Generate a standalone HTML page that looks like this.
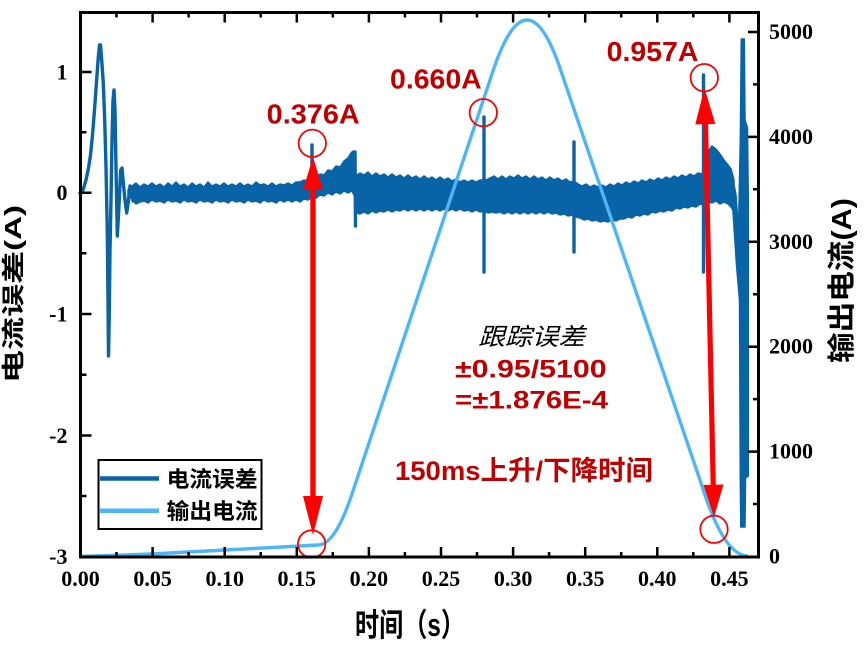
<!DOCTYPE html>
<html><head><meta charset="utf-8">
<style>
html,body{margin:0;padding:0;background:#fff;}
svg{display:block;}
.tk{font-family:"Liberation Serif",serif;font-weight:bold;font-size:22px;fill:#000;}
.cj{font-family:"Liberation Sans","Noto Sans CJK SC",sans-serif;font-weight:bold;fill:#000;}
.an{font-family:"Liberation Sans","Noto Sans CJK SC",sans-serif;font-weight:bold;fill:#c00000;}
</style></head><body>
<svg width="865" height="652" viewBox="0 0 865 652" xmlns="http://www.w3.org/2000/svg">
<rect width="865" height="652" fill="#fff"/>

<!-- dark blue error band -->
<g fill="#0864a6" stroke="#0864a6" stroke-width="1.5" stroke-linejoin="round">
<polygon points="128,190 132,186 136,183 140,187 144,184 148,186 152,183 156,186 160,184 164,187 168,183 172,186 176,182 180,186 184,184 188,187 192,183 196,186 200,184 204,187 208,182 212,186 216,184 220,186 224,183 228,186 232,184 236,186 240,183 244,186 248,184 252,186 256,182 260,185 264,184 268,186 272,183 276,186 280,184 284,185 288,183 292,185 296,182 300,182 304,180 308,181 312,178 316,177 320,174 324,175 328,170 332,171 336,166 340,167 344,161 348,158 351,153 353,151 355,156 356,176 360,173 364,175 368,172 372,176 376,173 380,176 384,174 388,177 392,174 396,177 400,175 404,178 408,175 412,178 416,176 420,179 424,176 428,179 432,177 436,180 440,177 444,180 448,178 452,181 456,179 460,182 464,180 468,182 472,180 476,182 480,180 486,180 490,178 494,176 498,179 502,176 506,179 510,176 514,178 518,175 522,178 526,176 530,179 534,176 538,179 542,177 546,180 550,177 554,180 558,178 562,181 566,179 570,182 574,181 578,184 582,186 586,184 590,187 594,185 598,187 602,185 606,187 610,184 614,186 618,183 622,185 626,182 630,184 634,181 638,183 642,180 646,182 650,179 654,181 658,178 662,180 666,177 670,179 674,176 678,178 682,175 686,177 690,174 694,176 698,173 702,174 706,163 709,150 712,146 716,149 720,154 724,160 728,165 731,169 734,180 734,212 731,207 728,204 724,202 720,204 716,201 712,203 708,202 704,205 700,204 696,207 692,206 688,208 684,207 680,209 676,208 672,211 668,210 664,212 660,211 656,213 652,212 648,215 644,214 640,216 636,215 632,218 628,217 624,219 620,219 616,221 612,220 608,222 604,221 600,222 596,220 592,221 588,219 584,220 580,218 576,217 572,215 568,216 564,214 560,215 556,213 552,214 548,212 544,214 540,212 536,214 532,212 528,214 524,212 520,214 516,212 512,214 508,212 504,214 500,212 496,213 492,212 488,213 484,211 480,212 476,210 472,212 468,210 464,211 460,209 456,211 452,209 448,211 444,209 440,211 436,209 432,211 428,209 424,211 420,209 416,211 412,209 408,211 404,209 400,211 396,210 392,212 388,210 384,212 380,211 376,213 372,211 368,214 364,212 360,214 357,213 355,197 352,191 348,193 344,191 340,194 336,192 332,195 328,193 324,196 320,195 316,198 312,197 308,200 304,199 300,202 296,200 292,202 288,200 284,202 280,200 276,203 272,201 268,202 264,200 260,203 256,201 252,202 248,200 244,203 240,201 236,202 232,200 228,203 224,201 220,202 216,200 212,203 208,201 204,202 200,200 196,203 192,201 188,202 184,200 180,203 176,201 172,202 168,200 164,203 160,201 156,202 152,200 148,203 144,201 140,202 136,204 132,199 128,195"/>
<polygon points="733,180 736,195 738.5,230 740.3,140 741.3,39 744.3,39 745,120 747.5,128 748.3,200 748.3,476 745.5,478 745,527 740.8,527 740.3,480 739.5,300 736.5,265 733,212"/>
</g>
<g fill="none" stroke="#0864a6" stroke-width="3.4" stroke-linejoin="round" stroke-linecap="round">
<polyline points="80,193 83,190 86,180 88.5,168 90.5,155 92.5,135 94.5,110 96.5,82 98.3,57 99.5,45 100.5,45 101.7,60 103.3,83 104.7,120 106,167 107.3,233 108,300 108.5,356 109.2,320 110,250 111,200 112,140 113,100 114,90 115,110 116,167 117.3,236 118.5,215 120.7,170 122,168 123.5,185 125,200 126.7,213 128.5,200 130,186 131.5,192 133,201 135,188"/>
<path d="M312,198 L312,145"/>
<path d="M355,152 L355.5,226"/>
<path d="M484,272 L484,117"/>
<path d="M574,252 L574,142"/>
<path d="M703.5,272 L703.5,75"/>
</g>

<!-- light blue output current -->
<path d="M80,556.5 L152,554 L225,550 L291,546.5 L318,545 Q335,545 352,494 L493,71 Q527,-31 561,71 L702,486 Q724,556 748,556" fill="none" stroke="#4db6f7" stroke-width="3.4" stroke-linejoin="round"/>

<!-- red circles -->
<g fill="none" stroke="#ff0000" stroke-width="1.8">
<circle cx="312.3" cy="143.3" r="13.7"/>
<circle cx="483.3" cy="112.7" r="13.7"/>
<circle cx="704.3" cy="77.7" r="13.7"/>
<circle cx="311.7" cy="544" r="13.7"/>
<circle cx="714" cy="529.3" r="13.7"/>
</g>

<!-- red arrows -->
<g fill="#ff0000">
<rect x="310.3" y="186" width="5.4" height="314"/>
<polygon points="313,157 323,190 303,190"/>
<polygon points="313,535 323,496 303,496"/>
<line x1="705.4" y1="120" x2="713.3" y2="488" stroke="#ff0000" stroke-width="5.2"/>
<polygon points="704.5,88 715.3,124 695.3,124.4"/>
<polygon points="714,517 723.5,484.5 703.5,485"/>
</g>

<!-- frame and ticks -->
<rect x="80.5" y="12.5" width="678" height="544.5" fill="none" stroke="#000" stroke-width="3"/>
<g stroke="#000" stroke-width="2.5" fill="none">
<path d="M152.6,557V547M224.7,557V547M296.8,557V547M368.9,557V547M441,557V547M513.1,557V547M585.2,557V547M657.3,557V547M729.4,557V547"/>
<path d="M116.5,557V552M188.6,557V552M260.7,557V552M332.8,557V552M404.9,557V552M477,557V552M549.1,557V552M621.2,557V552M693.3,557V552"/>
<path d="M152.6,12.5V22.5M224.7,12.5V22.5M296.8,12.5V22.5M368.9,12.5V22.5M441,12.5V22.5M513.1,12.5V22.5M585.2,12.5V22.5M657.3,12.5V22.5M729.4,12.5V22.5"/>
<path d="M116.5,12.5V17.5M188.6,12.5V17.5M260.7,12.5V17.5M332.8,12.5V17.5M404.9,12.5V17.5M477,12.5V17.5M549.1,12.5V17.5M621.2,12.5V17.5M693.3,12.5V17.5"/>
<path d="M80.5,72H91.5M80.5,192.7H91.5M80.5,314H91.5M80.5,435.5H91.5"/>
<path d="M80.5,132.3H86.5M80.5,253.3H86.5M80.5,374.8H86.5M80.5,496H86.5"/>
<path d="M758.5,451.6H748M758.5,346.7H748M758.5,241.8H748M758.5,136.9H748M758.5,32H748"/>
<path d="M758.5,504H753M758.5,399.1H753M758.5,294.2H753M758.5,189.3H753M758.5,84.4H753"/>
</g>

<!-- tick labels -->
<g class="tk" text-anchor="middle">
<text x="80.5" y="586">0.00</text>
<text x="152.6" y="586">0.05</text>
<text x="224.7" y="586">0.10</text>
<text x="296.8" y="586">0.15</text>
<text x="368.9" y="586">0.20</text>
<text x="441" y="586">0.25</text>
<text x="513.1" y="586">0.30</text>
<text x="585.2" y="586">0.35</text>
<text x="657.3" y="586">0.40</text>
<text x="729.4" y="586">0.45</text>
</g>
<g class="tk" text-anchor="end">
<text x="67.5" y="79.5">1</text>
<text x="67.5" y="200.2">0</text>
<text x="67.5" y="321.5">-1</text>
<text x="67.5" y="443">-2</text>
<text x="67.5" y="564">-3</text>
</g>
<g class="tk">
<text x="769" y="563.5">0</text>
<text x="769" y="458.6">1000</text>
<text x="769" y="353.7">2000</text>
<text x="769" y="248.8">3000</text>
<text x="769" y="143.9">4000</text>
<text x="769" y="39">5000</text>
</g>

<!-- axis titles -->
<text class="cj" x="355" y="636" font-size="32" textLength="110" lengthAdjust="spacingAndGlyphs">时间（s）</text>
<text class="cj" transform="translate(21,294) rotate(-90)" text-anchor="middle" font-size="23" textLength="178" lengthAdjust="spacingAndGlyphs">电流误差(A)</text>
<text class="cj" transform="translate(851,280.5) rotate(-90)" text-anchor="middle" font-size="28" textLength="165" lengthAdjust="spacingAndGlyphs">输出电流(A)</text>

<!-- legend -->
<rect x="98.5" y="460" width="163" height="69" fill="#fff" stroke="#000" stroke-width="2"/>
<line x1="100" y1="478.5" x2="159" y2="478.5" stroke="#0864a6" stroke-width="4.5"/>
<line x1="100" y1="510.7" x2="159" y2="510.7" stroke="#4db6f7" stroke-width="4.5"/>
<text class="cj" x="166.7" y="487" font-size="22" textLength="91" lengthAdjust="spacingAndGlyphs">电流误差</text>
<text class="cj" x="166.7" y="519" font-size="22" textLength="91" lengthAdjust="spacingAndGlyphs">输出电流</text>

<!-- annotations -->
<text class="an" x="266.7" y="123.3" font-size="28" textLength="93" lengthAdjust="spacingAndGlyphs">0.376A</text>
<text class="an" x="390" y="88.3" font-size="28" textLength="91.7" lengthAdjust="spacingAndGlyphs">0.660A</text>
<text class="an" x="606.7" y="61" font-size="28" textLength="91.7" lengthAdjust="spacingAndGlyphs">0.957A</text>
<text x="478.3" y="345" font-family="'Liberation Sans','Noto Sans CJK SC',sans-serif" font-style="italic" font-size="24" fill="#000" textLength="106.7" lengthAdjust="spacingAndGlyphs">跟踪误差</text>
<text class="an" x="455" y="377.3" font-size="25" textLength="151.7" lengthAdjust="spacingAndGlyphs">±0.95/5100</text>
<text class="an" x="455" y="408.3" font-size="25" textLength="153" lengthAdjust="spacingAndGlyphs">=±1.876E-4</text>
<text class="an" x="395" y="480" font-size="27" textLength="258" lengthAdjust="spacingAndGlyphs">150ms上升/下降时间</text>
</svg>
</body></html>
